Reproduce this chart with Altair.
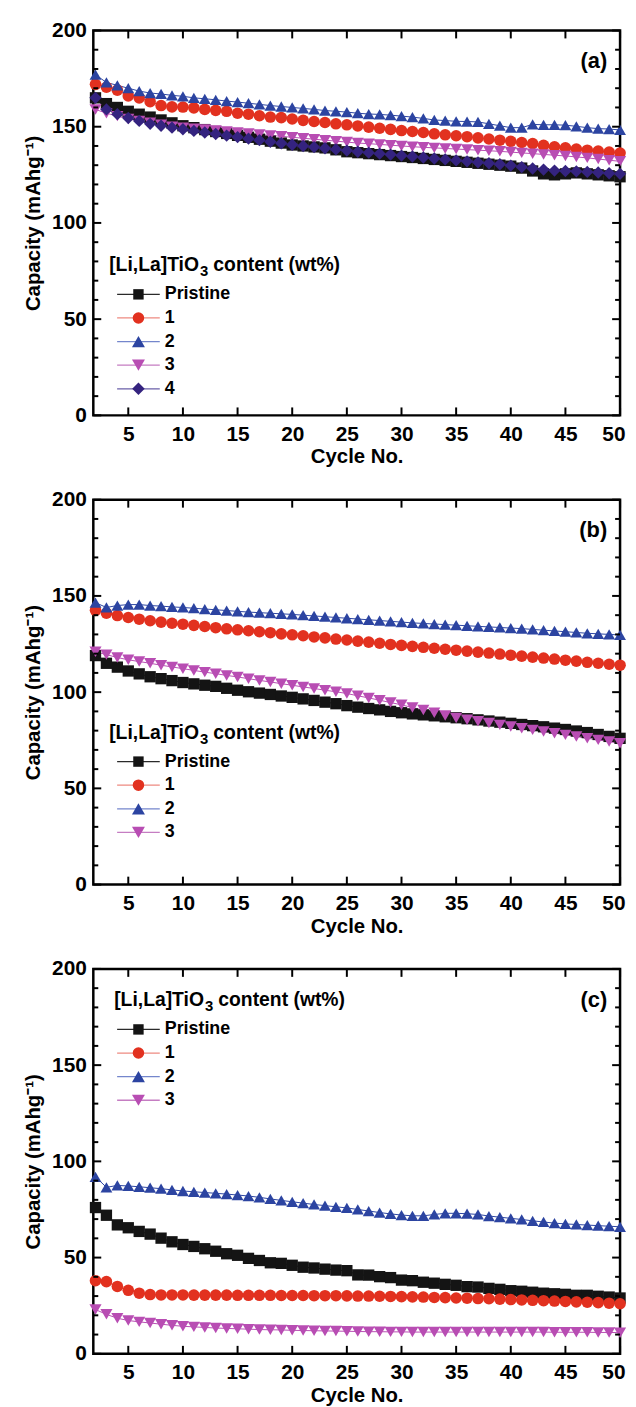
import altair as alt
import pandas as pd

FONT = "Liberation Sans"

CYCLES = list(range(2, 51))
X_TICKS = [5, 10, 15, 20, 25, 30, 35, 40, 45, 50]
Y_MAJOR = [0, 50, 100, 150, 200]
Y_MINOR = [10, 20, 30, 40, 60, 70, 80, 90, 110, 120, 130, 140, 160, 170, 180, 190]

SERIES_A = ["Pristine", "1", "2", "3", "4"]
SERIES_BC = ["Pristine", "1", "2", "3"]

# ---- panel (a) ----
A_PRISTINE = [165, 162, 160, 158, 156.5, 155, 153.5, 152, 150.5,
              149.5, 148.5, 147.5, 146.5, 145.5, 144.5, 143.5, 142.5, 141.5, 140.5,
              140, 139.5, 139, 138, 137, 136.5, 136, 135.5, 135, 134.5,
              134, 133.5, 133, 132.5, 132, 131.5, 131, 130.5, 130, 129.5,
              128.5, 127, 125.5, 125, 125.5, 126, 125.5, 125, 124.5, 124]
A_1 = [172, 170.5, 169, 166, 165, 163, 161, 160.3, 160.2,
       159.8, 159, 158.5, 158, 157, 156.5, 155.7, 155, 154.7, 154,
       153.3, 152.7, 152.2, 151.5, 151, 150.4, 149.8, 149.2, 148.6, 148,
       147.5, 147, 146.3, 145.8, 145.3, 144.8, 144.2, 143.6, 143, 142.4,
       141.8, 141.2, 140.3, 139.6, 139, 138.4, 137.8, 137.3, 136.8, 136.3]
A_2 = [177, 173, 171.5, 170, 168.5, 167.5, 167, 166.3, 165.8,
       165, 164.5, 164, 163.3, 162.8, 162.2, 161.6, 161, 160.5, 160,
       159.5, 159, 158.4, 158, 157.6, 157, 156.6, 156.4, 156, 155.5,
       155, 154.3, 153.5, 153.2, 152.8, 152.7, 152.5, 151.5, 150.5, 149.5,
       149.5, 151.2, 151, 151, 150.8, 150.2, 149.5, 149, 148.8, 148.3]
A_3 = [159, 157, 155.5, 154, 153, 152, 151, 150, 149.5,
       149, 148.5, 148, 147.5, 147, 146.5, 146, 145.5, 145, 144.5,
       144, 143.5, 143, 142.5, 142, 141.5, 141.2, 140.8, 140.4, 140,
       139.6, 139.3, 139, 138.7, 138.4, 138.1, 137.8, 137.5, 137.2, 136.8,
       136.4, 136, 135.6, 135.2, 134.8, 134.3, 133.8, 133.2, 132.6, 132]
A_4 = [165, 159, 156.5, 154.5, 153, 151.5, 150.5, 149.5, 148.7,
       147.8, 147, 146.2, 145.4, 144.6, 143.8, 143, 142.2, 141.4, 140.6,
       140, 139.4, 138.8, 138.2, 137.6, 137, 136.5, 136, 135.5, 135,
       134.5, 134, 133.5, 133, 132.5, 132, 131.5, 131, 130.5, 129.8,
       129, 128.3, 127.7, 127.2, 127, 126.8, 126.5, 126.2, 125.8, 125.5]

# ---- panel (b) ----
B_PRISTINE = [119, 115, 113, 111, 109.5, 108, 107, 106, 105,
              104.3, 103.6, 103, 102, 101, 100.2, 99.5, 98.8, 98, 97.3,
              96.5, 95.7, 94.8, 94, 93, 92.2, 91.5, 90.8, 90, 89.3,
              88.7, 88.2, 87.7, 87.2, 86.7, 86.2, 85.6, 85, 84.4, 83.8,
              83.2, 82.6, 82, 81.3, 80.6, 79.8, 79, 78, 77, 76]
B_1 = [142.5, 141, 139.8, 138.8, 137.9, 137.1, 136.4, 135.8, 135.3,
       134.7, 134.1, 133.5, 132.9, 132.4, 131.9, 131.4, 130.9, 130.3, 129.8,
       129.3, 128.7, 128.2, 127.6, 127.1, 126.5, 126, 125.4, 124.8, 124.3,
       123.8, 123.3, 122.8, 122.3, 121.8, 121.3, 120.8, 120.3, 119.8, 119.2,
       118.7, 118.2, 117.7, 117.2, 116.6, 116.1, 115.5, 115, 114.5, 114]
B_2 = [146.5, 144, 145, 145.5, 145.5, 145, 144.7, 144.3, 144,
       143.6, 143.2, 142.8, 142.4, 142, 141.6, 141.3, 141, 140.7, 140.4,
       140, 139.6, 139.2, 138.8, 138.4, 138, 137.6, 137.2, 136.8, 136.4,
       136, 135.7, 135.4, 135.1, 134.8, 134.5, 134.2, 133.9, 133.6, 133.3,
       133, 132.6, 132.2, 131.8, 131.4, 131, 130.6, 130.3, 130, 129.7]
B_3 = [121, 119.5, 118, 116.8, 115.9, 115, 114, 113.1, 112.2,
       111.3, 110.4, 109.6, 108.7, 107.9, 107, 106.1, 105.3, 104.4, 103.6,
       102.7, 101.9, 101, 100.2, 99.3, 98.1, 97, 95.8, 94.6, 93.4,
       92, 90.7, 89.3, 87.9, 86.6, 85.7, 84.9, 84, 83, 82.1,
       81.2, 80.4, 79.5, 78.7, 77.8, 76.9, 76, 75.2, 74.3, 73.4]

# ---- panel (c) ----
C_PRISTINE = [76, 72, 67, 65.5, 63.6, 62.2, 60.1, 58.2, 56.8,
              55.8, 54.6, 53.3, 52, 51.2, 49.6, 48.5, 47.3, 47, 46,
              45, 44.6, 44, 43.5, 43.2, 41, 40.9, 40.1, 39.6, 38.3,
              38, 37.2, 36.7, 36.1, 35.6, 34.9, 34.7, 34, 33.5, 32.8,
              32.5, 32, 31.5, 31.2, 30.9, 30.4, 30.4, 29.9, 29.5, 29]
C_1 = [38, 37.5, 35, 33, 31.5, 30.8, 30.6, 30.6, 30.6,
       30.5, 30.5, 30.5, 30.5, 30.4, 30.4, 30.4, 30.4, 30.3, 30.3,
       30.3, 30.2, 30.2, 30.2, 30.1, 30, 30, 29.9, 29.8, 29.7,
       29.6, 29.5, 29.3, 29.2, 29, 28.9, 28.7, 28.6, 28.4, 28.2,
       28, 27.8, 27.6, 27.4, 27.2, 27, 26.8, 26.6, 26.3, 26]
C_2 = [92, 86.5, 87.5, 87.2, 86.8, 86.3, 85.8, 85.2, 84.6,
       84.2, 83.8, 83.4, 83, 82.5, 82, 81.3, 80.5, 79.7, 79,
       78.3, 77.6, 77, 76.4, 75.8, 75, 74.2, 73.4, 72.7, 72.1,
       71.7, 71.7, 72.4, 73, 73, 72.8, 72.4, 71.6, 71, 70.4,
       69.8, 69.1, 68.5, 67.9, 67.5, 67.2, 66.9, 66.6, 66.3, 66]
C_3 = [23, 20.5, 18.5, 17.3, 16.6, 16, 15.4, 14.8, 14.3,
       14, 13.7, 13.4, 13.2, 13, 12.8, 12.6, 12.5, 12.4, 12.2,
       12.1, 12, 11.9, 11.8, 11.7, 11.6, 11.5, 11.5, 11.4, 11.4,
       11.3, 11.3, 11.3, 11.3, 11.3, 11.3, 11.3, 11.3, 11.3, 11.3,
       11.3, 11.3, 11.3, 11.2, 11.2, 11.2, 11.2, 11.1, 11.1, 11]

COLORS = ["#141414", "#e2311f", "#2c44a1", "#b84db3", "#34237f"]
LINE_COLORS = ["#2a2a2a", "#ee8a80", "#7486cc", "#c57dc2", "#6a5fa8"]
SHAPES = ["square", "circle", "triangle-up", "triangle-down", "diamond"]
SIZES = [130, 155, 200, 200, 190]
LEG_SIZES = [110, 135, 170, 170, 160]

W, H = 531, 388

X_AXIS = alt.Axis(values=X_TICKS, title="Cycle No.", labelPadding=8, titlePadding=3,
                  ticks=False, domain=False, grid=False, labelOverlap=False,
                  labelFlush=True, labelFlushOffset=5,
                  labelFont=FONT, titleFont=FONT, labelFontSize=21, titleFontSize=20.5,
                  labelFontWeight="bold", titleFontWeight="bold",
                  labelColor="black", titleColor="black")
Y_AXIS = alt.Axis(values=Y_MAJOR, title="Capacity (mAhg\u207b\u00b9)", labelPadding=7, titlePadding=8,
                  ticks=False, domain=False, grid=False,
                  labelFont=FONT, titleFont=FONT, labelFontSize=21, titleFontSize=20.5,
                  labelFontWeight="bold", titleFontWeight="bold",
                  labelColor="black", titleColor="black")


def panel(tag, series, values, leg_title_y, leg_first_y, leg_title_x):
    n = len(series)
    rows = []
    for s, vals in zip(series, values):
        for c, v in zip(CYCLES, vals):
            rows.append({"cycle": c, "cap": v, "series": s})
    df = pd.DataFrame(rows)

    xs = alt.Scale(domain=[1.8, 50], nice=False, zero=False)
    ys = alt.Scale(domain=[0, 200], nice=False)
    col = alt.Color("series:N", scale=alt.Scale(domain=series, range=COLORS[:n]), legend=None)
    shp = alt.Shape("series:N", scale=alt.Scale(domain=series, range=SHAPES[:n]), legend=None)
    siz = alt.Size("series:N", scale=alt.Scale(domain=series, range=SIZES[:n]), legend=None)

    def X(f):
        return alt.X(f, scale=xs, axis=X_AXIS, title="Cycle No.")

    def Y(f):
        return alt.Y(f, scale=ys, axis=Y_AXIS, title="Capacity (mAhg\u207b\u00b9)")

    base = alt.Chart(df)
    lines = base.mark_line(strokeWidth=1).encode(
        x=X("cycle:Q"), y=Y("cap:Q"), color=col, detail="series:N",
    )
    points = base.mark_point(filled=True, opacity=1, strokeWidth=0).encode(
        x=X("cycle:Q"), y=Y("cap:Q"), color=col, shape=shp, size=siz,
    )

    layers = [lines, points]

    # inward ticks on all four sides
    ymaj = alt.Chart(pd.DataFrame({"v": Y_MAJOR}))
    ymin = alt.Chart(pd.DataFrame({"v": Y_MINOR}))
    xt = alt.Chart(pd.DataFrame({"v": X_TICKS}))
    tk = dict(color="black", strokeWidth=2)
    layers += [
        ymaj.mark_rule(**tk).encode(y=Y("v:Q"), x=alt.value(0), x2=alt.value(8)),
        ymin.mark_rule(**tk).encode(y=Y("v:Q"), x=alt.value(0), x2=alt.value(5)),
        ymaj.mark_rule(**tk).encode(y=Y("v:Q"), x=alt.value(W), x2=alt.value(W - 8)),
        ymin.mark_rule(**tk).encode(y=Y("v:Q"), x=alt.value(W), x2=alt.value(W - 5)),
        xt.mark_rule(**tk).encode(x=X("v:Q"), y=alt.value(H), y2=alt.value(H - 8)),
        xt.mark_rule(**tk).encode(x=X("v:Q"), y=alt.value(0), y2=alt.value(8)),
    ]

    # legend (drawn inside plot)
    txt = dict(font=FONT, fontWeight="bold", color="black", baseline="middle", align="left")
    tdf = alt.Chart(pd.DataFrame({"a": ["[Li,La]TiO"], "b": ["3"], "c": ["content (wt%)"]}))
    layers += [
        tdf.mark_text(fontSize=19.5, **txt).encode(x=alt.value(leg_title_x), y=alt.value(leg_title_y), text="a:N"),
        tdf.mark_text(fontSize=15, **txt).encode(x=alt.value(leg_title_x + 91.5), y=alt.value(leg_title_y + 6), text="b:N"),
        tdf.mark_text(fontSize=19.5, **txt).encode(x=alt.value(leg_title_x + 105), y=alt.value(leg_title_y), text="c:N"),
    ]
    for i, s in enumerate(series):
        yy = leg_first_y + i * 23.8
        ld = alt.Chart(pd.DataFrame({"label": [s]}))
        layers += [
            ld.mark_rule(color=LINE_COLORS[i], strokeWidth=1.3).encode(
                x=alt.value(24), x2=alt.value(67), y=alt.value(yy)),
            ld.mark_point(filled=True, opacity=1, strokeWidth=0, color=COLORS[i], shape=SHAPES[i],
                          size=LEG_SIZES[i]).encode(x=alt.value(45.5), y=alt.value(yy)),
            ld.mark_text(fontSize=18, **txt).encode(x=alt.value(72), y=alt.value(yy), text="label:N"),
        ]

    tagdf = alt.Chart(pd.DataFrame({"t": [tag]}))
    layers.append(
        tagdf.mark_text(font=FONT, fontWeight="bold", fontSize=22, color="black", align="right",
                        baseline="middle").encode(x=alt.value(W - 13), y=alt.value(31), text="t:N")
    )

    return alt.layer(*layers).properties(width=W, height=H)


pa = panel("(a)", SERIES_A, [A_PRISTINE, A_1, A_2, A_3, A_4], 236, 266, 16)
pb = panel("(b)", SERIES_BC, [B_PRISTINE, B_1, B_2, B_3], 235, 264, 16)
pc = panel("(c)", SERIES_BC, [C_PRISTINE, C_1, C_2, C_3], 31, 61, 21)

chart = alt.vconcat(pa, pb, pc, spacing=18).properties(
    padding={"left": 14, "top": 4, "right": 0, "bottom": 0}
).configure_view(stroke="black", strokeWidth=2.5)

chart.save("out.html", embed_options={"renderer": "svg", "actions": False})
